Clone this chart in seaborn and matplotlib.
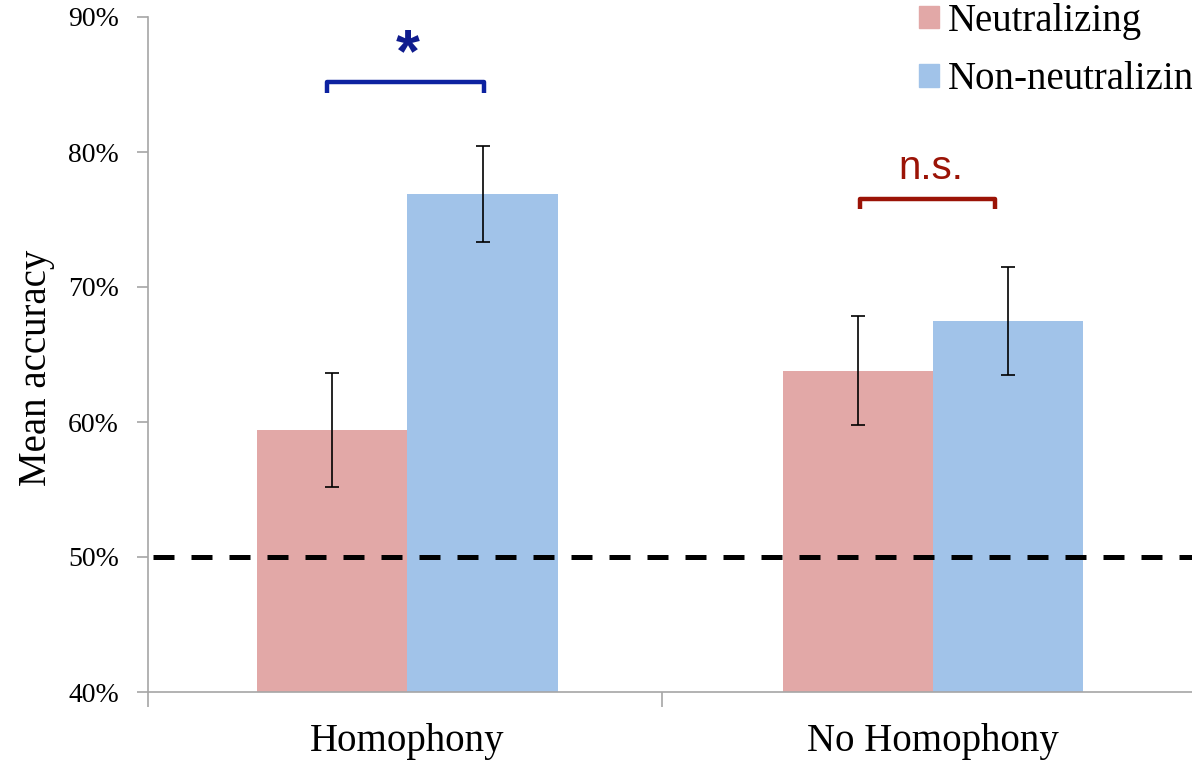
import matplotlib
matplotlib.use("Agg")
import matplotlib.pyplot as plt
from matplotlib.ticker import FixedLocator, FuncFormatter
import seaborn as sns
import pandas as pd

# Mean accuracy (%) and standard error per condition and pair type
conditions = ["Homophony", "No Homophony"]
pair_types = ["Neutralizing", "Non-neutralizing"]
neutralizing_mean = [59.4, 63.8]
neutralizing_err = [4.2, 4.05]
non_neutralizing_mean = [76.9, 67.5]
non_neutralizing_err = [3.55, 4.0]
chance_level = 50
y_ticks = [40, 50, 60, 70, 80, 90]

colors = ["#E2A8A7", "#A1C3E9"]
spine_color = "#A6A6A6"

df = pd.DataFrame({
    "condition": conditions * 2,
    "type": [pair_types[0]] * 2 + [pair_types[1]] * 2,
    "accuracy": neutralizing_mean + non_neutralizing_mean,
})
errors = {pair_types[0]: neutralizing_err, pair_types[1]: non_neutralizing_err}

sns.set_style("white")
plt.rcParams["font.family"] = ["Liberation Serif", "DejaVu Serif"]
plt.rcParams["text.color"] = "black"
plt.rcParams["axes.labelcolor"] = "black"
plt.rcParams["xtick.labelcolor"] = "black"
plt.rcParams["ytick.labelcolor"] = "black"

W, H = 1192, 762
fig = plt.figure(figsize=(W / 100, H / 100), dpi=100)
ax_left, ax_bottom, ax_top = 148, 692, 17
ax = fig.add_axes([ax_left / W, 1 - ax_bottom / H, 1 - ax_left / W, (ax_bottom - ax_top) / H])

sns.barplot(data=df, x="condition", y="accuracy", hue="type", hue_order=pair_types,
            order=conditions, palette=colors, width=0.571, errorbar=None,
            saturation=1, linewidth=0, ax=ax, legend=False)

# error bars centred on each bar
for container, ptype in zip(ax.containers, pair_types):
    for patch, err in zip(container.patches, errors[ptype]):
        cx = patch.get_x() + patch.get_width() / 2
        ax.errorbar(cx, patch.get_height(), yerr=err, fmt="none", ecolor="black",
                    elinewidth=1.2, capsize=5, capthick=1.2, zorder=4)

ax.set_ylim(40, 90)
ax.set_xlim(-0.4938, 1.4929)

# chance line
ax.axhline(chance_level, xmin=5 / (W - ax_left), color="black", lw=3.6,
           dashes=(4.2, 3.4), zorder=5)

# significance brackets
blue = "#0D22A0"
red = "#9B1306"
ax.plot([-0.153, -0.153, 0.146, 0.146], [84.4, 85.2, 85.2, 84.4], color=blue, lw=3.2,
        solid_joinstyle="round", solid_capstyle="butt", clip_on=False)
ax.text(0.0, 86.0, "*", color="#101C8E", fontsize=44, fontweight="bold",
        family="Liberation Sans", ha="center", va="baseline")
ax.plot([0.861, 0.861, 1.118, 1.118], [75.8, 76.5, 76.5, 75.8], color=red, lw=3.2,
        solid_joinstyle="round", solid_capstyle="butt", clip_on=False)
ax.text(0.995, 78.0, "n.s.", color=red, fontsize=29, family="Liberation Sans",
        ha="center", va="baseline")

# axes styling
sns.despine(ax=ax, top=True, right=True)
for side in ("left", "bottom"):
    ax.spines[side].set_color(spine_color)
    ax.spines[side].set_linewidth(1.2)

ax.yaxis.set_major_locator(FixedLocator(y_ticks))
ax.yaxis.set_major_formatter(FuncFormatter(lambda v, _: f"{int(v)}%"))
ax.tick_params(axis="y", which="major", left=True, length=8, width=1.2,
               color=spine_color, labelsize=20, pad=13, direction="out")
ax.set_xticks([0, 1])
ax.set_xticklabels(conditions)
ax.set_xticks([-0.4938, 0.484], minor=True)
ax.tick_params(axis="x", which="major", length=0, labelsize=28, pad=22)
ax.tick_params(axis="x", which="minor", bottom=True, length=11, width=1.2,
               color=spine_color, direction="out")
ax.set_xlabel("")
ax.set_ylabel("Mean accuracy", fontsize=28)
ax.yaxis.set_label_coords(-0.089, 0.48)

# legend
handles = [plt.Rectangle((0, 0), 1, 1, color=c) for c in colors]
fig.legend(handles, pair_types, loc="upper left", bbox_to_anchor=(919 / W, 1 - 3 / H),
           frameon=False, fontsize=28, handlelength=0.51, handleheight=0.51,
           handletextpad=0.23, labelspacing=0.55, borderpad=0, borderaxespad=0)

fig.savefig("out.png", dpi=100)
